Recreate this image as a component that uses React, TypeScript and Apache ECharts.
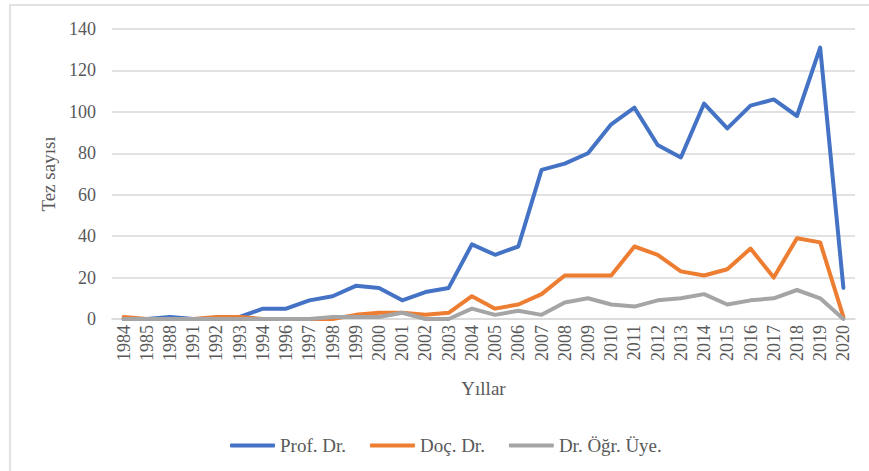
import React, { useEffect, useRef } from "react";
import * as echarts from "echarts";

const years = ["1984","1985","1988","1991","1992","1993","1994","1996","1997","1998","1999","2000","2001","2002","2003","2004","2005","2006","2007","2008","2009","2010","2011","2012","2013","2014","2015","2016","2017","2018","2019","2020"];
const profDr = [0,0,1,0,0,1,5,5,9,11,16,15,9,13,15,36,31,35,72,75,80,94,102,84,78,104,92,103,106,98,131,15];
const docDr = [1,0,0,0,1,1,0,0,0,0,2,3,3,2,3,11,5,7,12,21,21,21,35,31,23,21,24,34,20,39,37,1];
const drOgrUye = [0,0,0,0,0,0,0,0,0,1,1,1,3,0,0,5,2,4,2,8,10,7,6,9,10,12,7,9,10,14,10,0];
const yTicks = { min: 0, max: 140, interval: 20 };

const FONT = "'Liberation Serif', 'Times New Roman', serif";
const TXT = "#595959";
const GRID = "#D9D9D9";

export default function App() {
  const ref = useRef<HTMLDivElement>(null);
  useEffect(() => {
    if (!ref.current) return;
    const chart = echarts.init(ref.current, null, { renderer: "svg" });
    const mk = (name: string, data: number[], color: string) => ({
      name,
      type: "line",
      data,
      symbol: "none",
      lineStyle: { color, width: 4, cap: "round", join: "round" },
      itemStyle: { color },
    });
    chart.setOption({
      animation: false,
      backgroundColor: "#fff",
      graphic: [
        {
          type: "rect",
          shape: { x: 10, y: 5, width: 900, height: 600 },
          style: { fill: "none", stroke: GRID, lineWidth: 1.5 },
          silent: true,
        },
      ],
      grid: { left: 112, right: 14, top: 29, bottom: 152 },
      legend: {
        left: 225,
        top: 431,
        itemWidth: 45,
        itemHeight: 4,
        itemGap: 24,
        icon: "roundRect",
        textStyle: { fontFamily: FONT, fontSize: 19, color: TXT },
        data: ["Prof. Dr.", "Doç. Dr.", "Dr. Öğr. Üye."],
      },
      xAxis: {
        type: "category",
        data: years,
        boundaryGap: true,
        name: "Yıllar",
        nameLocation: "middle",
        nameGap: 60,
        nameTextStyle: { fontFamily: FONT, fontSize: 19, color: TXT },
        axisLine: { lineStyle: { color: GRID, width: 1.5 } },
        axisTick: { show: false },
        axisLabel: {
          rotate: 90,
          interval: 0,
          margin: 6,
          fontFamily: FONT,
          fontSize: 18,
          color: TXT,
        },
      },
      yAxis: {
        type: "value",
        min: yTicks.min,
        max: yTicks.max,
        interval: yTicks.interval,
        name: "Tez sayısı",
        nameLocation: "middle",
        nameGap: 52,
        nameTextStyle: { fontFamily: FONT, fontSize: 19, color: TXT },
        axisLine: { show: false },
        axisTick: { show: false },
        axisLabel: { margin: 16, fontFamily: FONT, fontSize: 18, color: TXT },
        splitLine: { lineStyle: { color: GRID, width: 1.5 } },
      },
      series: [
        mk("Prof. Dr.", profDr, "#4472C4"),
        mk("Doç. Dr.", docDr, "#ED7D31"),
        mk("Dr. Öğr. Üye.", drOgrUye, "#A5A5A5"),
      ],
    });
    return () => chart.dispose();
  }, []);
  return (
    <div
      ref={ref}
      style={{ position: "fixed", left: 0, top: 0, width: 869, height: 471 }}
    />
  );
}
